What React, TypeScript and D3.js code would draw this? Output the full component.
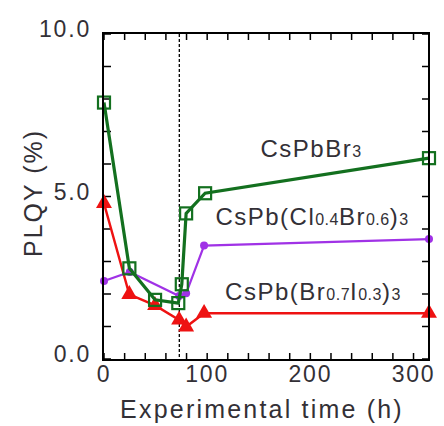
import React from "react";
import { scaleLinear, line, range, symbol, symbolTriangle } from "d3";

// values
const timeBr = [0, 24.6, 49.5, 72, 75.4, 79.6, 98, 315];
const plqyBr = [7.89, 2.79, 1.82, 1.72, 2.3, 4.48, 5.1, 6.18];
const timeCl = [0, 25, 72.8, 79.6, 97, 315];
const plqyCl = [2.4, 2.68, 1.94, 2.02, 3.49, 3.69];
const timeI = [0, 24.5, 49.5, 72.8, 79.6, 97, 315];
const plqyI = [4.79, 1.99, 1.65, 1.2, 0.99, 1.41, 1.41];

const xTickLabels = [0, 100, 200, 300];
const yTickLabels = [0, 5, 10];
const cutTime = 73;

const labelBr = [["CsPbBr", false], ["3", true]];
const labelCl = [["CsPb(Cl", false], ["0.4", true], ["Br", false], ["0.6", true], [")", false], ["3", true]];
const labelI = [["CsPb(Br", false], ["0.7", true], ["I", false], ["0.3", true], [")", false], ["3", true]];

const W = 444, H = 426;
const left = 104, right = 429, top = 34, bottom = 359;
const font = "'Liberation Sans', Arial, sans-serif";
const textCol = "#333036";

const green = "#13701f";
const purple = "#a032e6";
const red = "#ee1212";

function Label({ parts, x, y }) {
  return (
    <text x={x} y={y} textAnchor="middle" fontFamily={font} fontSize={24} letterSpacing={1.5} fill={textCol}>
      {parts.map(([t, sub], i) => (
        <tspan key={i} fontSize={sub ? 16 : 24} letterSpacing={sub ? 0.5 : 1.5}>{t}</tspan>
      ))}
    </text>
  );
}

export default function App() {
  const x = scaleLinear().domain([0, 315]).range([left, right]);
  const y = scaleLinear().domain([0, 10]).range([bottom, top]);
  const path = (xs, ys) => line()(xs.map((t, i) => [x(t), y(ys[i])]));
  const tri = symbol(symbolTriangle, 110)();

  return (
    <svg width={W} height={H} style={{ position: "absolute", left: 0, top: 0, background: "#fff" }}>
      {/* ticks */}
      {range(0, 316, 20).map((t) => (
        <g key={"x" + t} stroke="#000" strokeWidth={1.5}>
          <line x1={x(t)} x2={x(t)} y1={bottom} y2={bottom - 6} />
          <line x1={x(t)} x2={x(t)} y1={top} y2={top + 6} />
        </g>
      ))}
      {range(0, 11, 1).map((v) => (
        <g key={"y" + v} stroke="#000" strokeWidth={1.5}>
          <line x1={left} x2={left + 7} y1={y(v)} y2={y(v)} />
          <line x1={right} x2={right - 7} y1={y(v)} y2={y(v)} />
        </g>
      ))}
      <line x1={x(cutTime)} x2={x(cutTime)} y1={top} y2={bottom} stroke="#000" strokeWidth={1.3} strokeDasharray="3,2" />

      {/* series */}
      <path d={path(timeI, plqyI)} fill="none" stroke={red} strokeWidth={2.4} />
      {timeI.map((t, i) => (
        <path key={i} d={tri} transform={`translate(${x(t)},${y(plqyI[i])})`} fill={red} />
      ))}
      <path d={path(timeCl, plqyCl)} fill="none" stroke={purple} strokeWidth={2.2} />
      {timeCl.map((t, i) => (
        <circle key={i} cx={x(t)} cy={y(plqyCl[i])} r={4} fill={purple} />
      ))}
      <path d={path(timeBr, plqyBr)} fill="none" stroke={green} strokeWidth={3.2} />
      {timeBr.map((t, i) => (
        <rect key={i} x={x(t) - 6} y={y(plqyBr[i]) - 6} width={12} height={12} fill="none" stroke={green} strokeWidth={2.2} />
      ))}

      <rect x={left - 1} y={top - 1} width={right - left + 1} height={bottom - top + 2} fill="none" stroke="#000" strokeWidth={2} />

      {/* tick labels */}
      {yTickLabels.map((v) => (
        <text key={v} x={91} y={y(v) + 3} textAnchor="end" fontFamily={font} fontSize={23} letterSpacing={1.8} fill={textCol}>
          {v.toFixed(1)}
        </text>
      ))}
      {xTickLabels.map((t) => (
        <text key={t} x={x(t)} y={bottom + 23} textAnchor="middle" fontFamily={font} fontSize={23} letterSpacing={1.8} fill={textCol}>
          {t}
        </text>
      ))}
      <text x={262} y={418} textAnchor="middle" fontFamily={font} fontSize={25} letterSpacing={2.2} fill={textCol}>
        Experimental time (h)
      </text>
      <text transform="translate(42,193) rotate(-90)" textAnchor="middle" fontFamily={font} fontSize={25} letterSpacing={2} fill={textCol}>
        PLQY (%)
      </text>

      <Label parts={labelBr} x={311} y={157} />
      <Label parts={labelCl} x={312} y={225} />
      <Label parts={labelI} x={313} y={300} />
    </svg>
  );
}
